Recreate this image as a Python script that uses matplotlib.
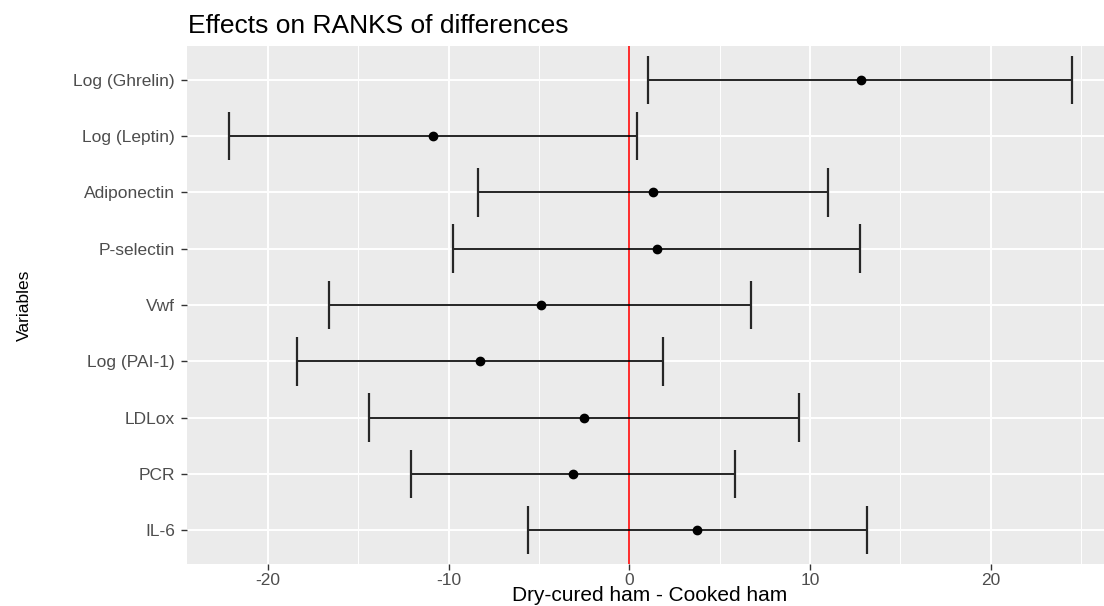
import numpy as np
import matplotlib
matplotlib.use("Agg")
import matplotlib.pyplot as plt
from matplotlib.ticker import MultipleLocator

# rows from top to bottom
variables = ["Log (Ghrelin)", "Log (Leptin)", "Adiponectin", "P-selectin", "Vwf",
             "Log (PAI-1)", "LDLox", "PCR", "IL-6"]
estimate = [12.84, -10.85, 1.30, 1.52, -4.89, -8.27, -2.49, -3.13, 3.77]
lower = [1.04, -22.15, -8.38, -9.75, -16.60, -18.39, -14.42, -12.07, -5.60]
upper = [24.50, 0.42, 11.00, 12.77, 6.74, 1.87, 9.40, 5.86, 13.16]

x_ticks = [-20, -10, 0, 10, 20]

plt.rcParams["font.family"] = ["Liberation Sans", "DejaVu Sans"]
plt.rcParams["axes.unicode_minus"] = False

W, H = 1104, 606
fig = plt.figure(figsize=(W / 100, H / 100), dpi=100)
# panel runs a bit past the right edge, like the cropped original
ax_left, ax_right, ax_top, ax_bottom = 187, 1114, 46, 564
ax = fig.add_axes([ax_left / W, (H - ax_bottom) / H,
                   (ax_right - ax_left) / W, (ax_bottom - ax_top) / H])
ax.set_facecolor("#EBEBEB")

y_pos = np.arange(len(variables))[::-1]
cap = 0.43

ax.axvline(0, color="#FF1A1A", lw=1.3, zorder=3)
ax.hlines(y_pos, lower, upper, color="black", lw=1.2, zorder=4)
ax.vlines(lower, y_pos - cap, y_pos + cap, color="#262626", lw=1.6, zorder=4)
ax.vlines(upper, y_pos - cap, y_pos + cap, color="#262626", lw=1.6, zorder=4)
ax.plot(estimate, y_pos, "o", color="black", ms=6, zorder=5)

ax.set_xlim(-24.48, 26.83)
ax.set_ylim(-0.6, len(variables) - 0.4)
ax.set_xticks(x_ticks)
ax.xaxis.set_minor_locator(MultipleLocator(5))
ax.set_yticks(y_pos)
ax.set_yticklabels(variables)

ax.grid(which="major", color="white", lw=1.4)
ax.grid(which="minor", axis="x", color="white", lw=0.7)
ax.set_axisbelow(True)
for s in ax.spines.values():
    s.set_visible(False)

ax.tick_params(which="major", length=4.3, width=1.0, color="#333333",
               labelsize=12.5, labelcolor="#4D4D4D", pad=2)
ax.tick_params(axis="y", pad=4.5)
ax.tick_params(which="minor", length=0)

ax.set_ylabel("Variables", fontsize=12.5, color="black")
ax.yaxis.set_label_coords((32 - ax_left) / (ax_right - ax_left), 0.5)
fig.text(650 / W, 1 - 601 / H, "Dry-cured ham - Cooked ham", fontsize=15,
         ha="center", va="baseline", color="black")
fig.text(188 / W, 1 - 33 / H, "Effects on RANKS of differences", fontsize=19,
         ha="left", va="baseline", color="black")

fig.savefig("out.png", dpi=100)
